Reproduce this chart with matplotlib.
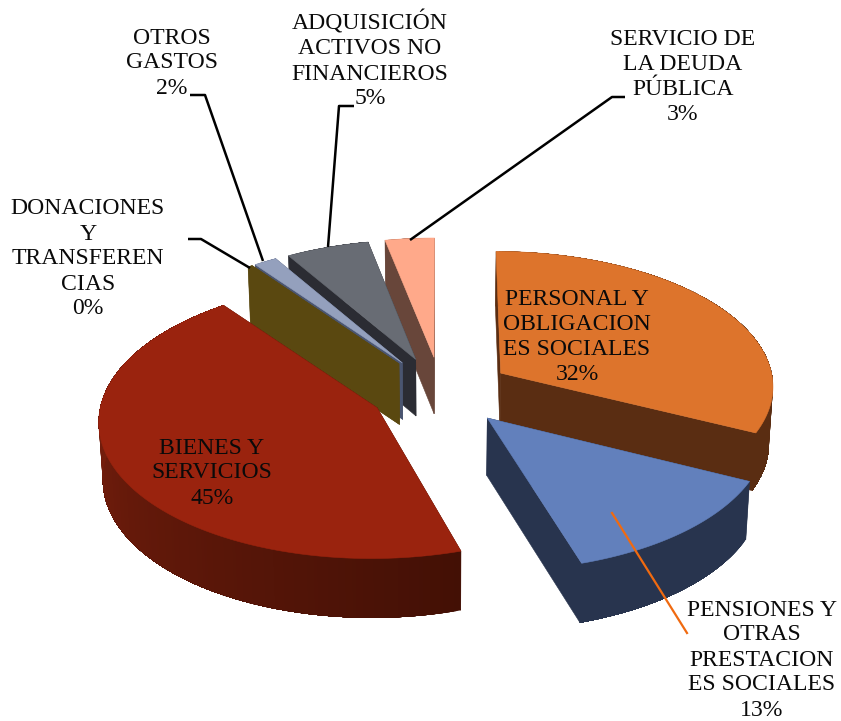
import numpy as np
import matplotlib
matplotlib.use("Agg")
import matplotlib.pyplot as plt
from matplotlib.patches import Polygon
from matplotlib.colors import to_rgb

# ---- data ----
categories = ["PERSONAL Y\nOBLIGACION\nES SOCIALES", "PENSIONES Y\nOTRAS\nPRESTACION\nES SOCIALES",
              "BIENES Y\nSERVICIOS", "DONACIONES\nY\nTRANSFEREN\nCIAS", "OTROS\nGASTOS",
              "ADQUISICIÓN\nACTIVOS NO\nFINANCIEROS", "SERVICIO DE\nLA DEUDA\nPÚBLICA"]
values = [32.2, 13.0, 44.4, 0.3, 1.5, 5.4, 3.2]
shown = ["32%", "13%", "45%", "0%", "2%", "5%", "3%"]

# ---- style ----
explode = [0.26, 0.255, 0.26, 0.26, 0.26, 0.26, 0.26]
depth = [1.0, 1.0, 1.0, 1.07, 1.0, 1.0, 1.0]
top_col = ["#dd742c", "#6280bc", "#9a230e", "#5a4810", "#94a0bd", "#686c74", "#ffa98a"]
side_a = ["#5a2d12", "#28344e", "#431005", "#5a4810", "#4a5570", "#2b2c33", "#68463a"]
side_b = ["#5a2d12", "#28344e", "#8c2410", "#5a4810", "#4a5570", "#2b2c33", "#68463a"]
face_col = ["#5a2d12", "#28344e", "#431005", "#5a4810", "#4a5570", "#2b2c33", "#68463a"]
order = [6, 5, 4, 3, 0, 2, 1]
label_pos = [(577, 337), (762, 660), (212, 473), (88, 259), (172, 63), (370, 60), (683, 77)]

CX, CY, A, B, P, D = 441.0, 391.5, 274.0, 135.0, 0.085, 57.0


def project(X, Y, z=0.0):
    g = 1.0 / (1.0 + P * Y)
    x = CX + A * X * g * (1 - 0.012 * z)
    y = CY - B * Y * g + z * D * g ** 0.4
    return x, y


fig = plt.figure(figsize=(8.41, 7.21), dpi=100)
ax = fig.add_axes([0, 0, 1, 1])
ax.set_xlim(0, 841)
ax.set_ylim(721, 0)
ax.axis("off")


def poly(pts, color, z, lw=0.4):
    ax.add_patch(Polygon(pts, closed=True, facecolor=color, edgecolor=color if lw else "none",
                         linewidth=lw, zorder=z))


frac = np.array(values) / sum(values)
edges = np.concatenate([[0], np.cumsum(frac)]) * 2 * np.pi

for rank, i in enumerate(order):
    t0, t1 = edges[i], edges[i + 1]
    mid = (t0 + t1) / 2
    ox, oy = explode[i] * np.sin(mid), explode[i] * np.cos(mid)
    th = np.linspace(t0, t1, max(int(np.degrees(t1 - t0) * 1.5), 3))
    rx, ry = ox + np.sin(th), oy + np.cos(th)
    base = rank * 10
    d = depth[i]
    # radial faces
    for k, t in enumerate((t0, t1)):
        ex, ey = ox + np.sin(t), oy + np.cos(t)
        poly([project(ox, oy, 0), project(ex, ey, 0), project(ex, ey, d), project(ox, oy, d)], face_col[i], base + k)
    # outer rim: each band overlaps the following ones so that no seams show
    ca, cb = np.array(to_rgb(side_a[i])), np.array(to_rgb(side_b[i]))
    n = len(th) - 1
    for j in range(n):
        s = j / max(n - 1, 1)
        c = tuple(ca + (cb - ca) * s)
        kk = np.arange(j, n + 1)
        up = [project(rx[q], ry[q], 0) for q in kk]
        lo = [project(rx[q], ry[q], d) for q in kk[::-1]]
        poly(up + lo, c, base + 3, lw=0)
    # top
    pts = [project(ox, oy, 0)] + [project(a, b, 0) for a, b in zip(rx, ry)]
    poly(pts, top_col[i], base + 5)

FONT = "Liberation Serif"
for name, pct, (lx, ly) in zip(categories, shown, label_pos):
    ax.text(lx, ly, name + "\n" + pct, ha="center", va="center", family=FONT, fontsize=17.1,
            linespacing=1.25, color="#0a0a0a", zorder=200)

# leader lines
leaders = [([188, 201, 250], [239, 239, 268]),
           ([190, 205, 263], [95, 95, 261]),
           ([354, 339, 328], [106, 106, 247]),
           ([625, 612, 410], [97, 97, 240])]
for xs, ys in leaders:
    ax.plot(xs, ys, color="black", lw=1.8, zorder=150, solid_capstyle="butt")
ax.plot([612, 687], [513, 633], color="#f06a10", lw=1.6, zorder=150)

fig.savefig("out.png", dpi=100)
